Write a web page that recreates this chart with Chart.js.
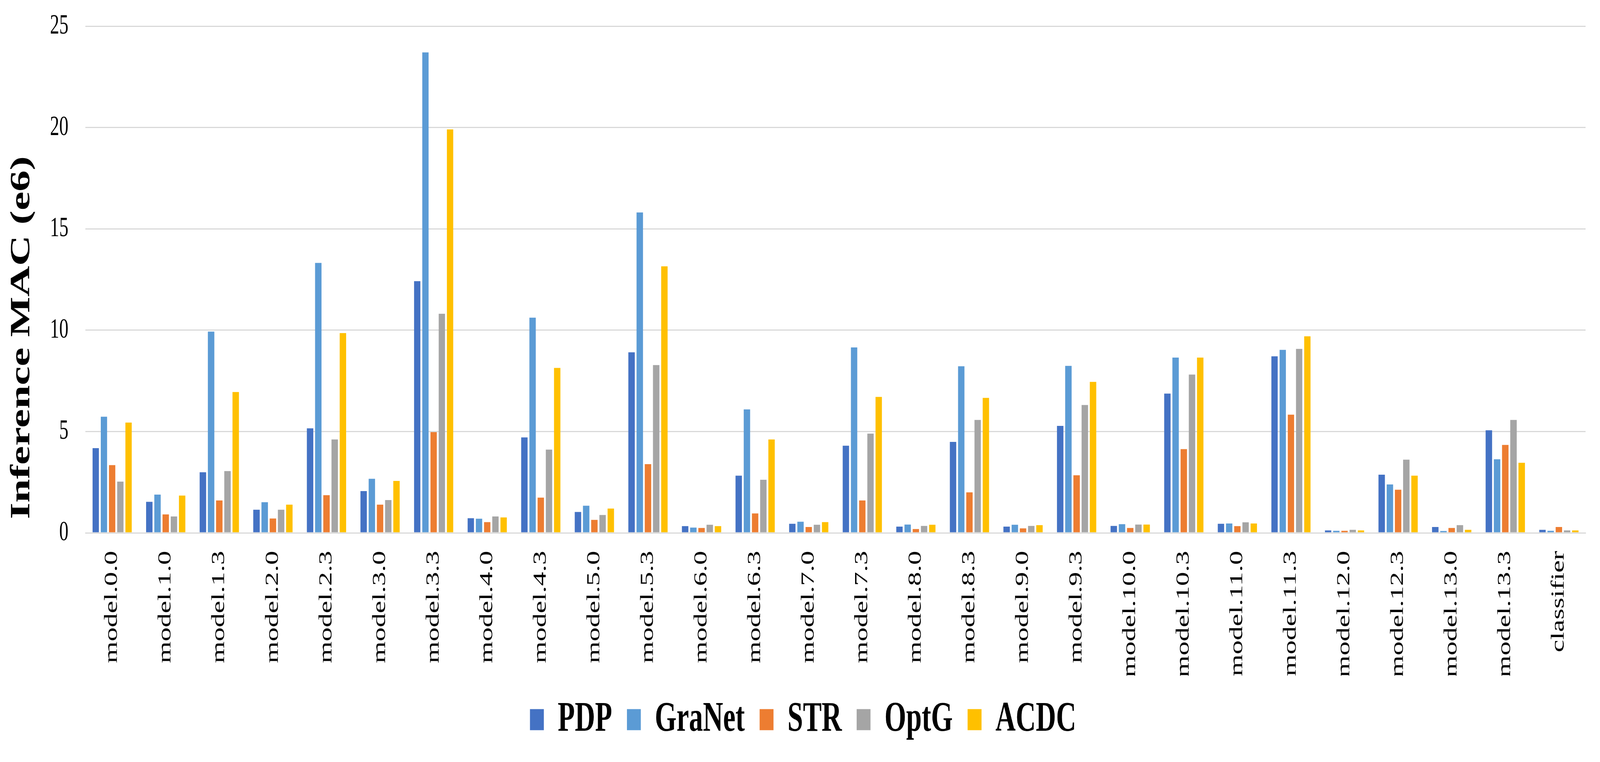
<!DOCTYPE html>
<html>
<head>
<meta charset="utf-8">
<script src="https://cdn.jsdelivr.net/npm/chart.js@4.4.1/dist/chart.umd.min.js"></script>
<style>
  html, body { margin: 0; padding: 0; background: #fff; overflow: hidden; }
  #wrap { width: 6242px; height: 1952px; transform-origin: 0 0; }
</style>
</head>
<body>
<div id="wrap"><canvas id="chartMac" width="6242" height="1952"></canvas></div>
<script>
// --- Datos ---
const layers = ["model.0.0", "model.1.0", "model.1.3", "model.2.0", "model.2.3", "model.3.0", "model.3.3",
    "model.4.0", "model.4.3", "model.5.0", "model.5.3", "model.6.0", "model.6.3", "model.7.0", "model.7.3",
    "model.8.0", "model.8.3", "model.9.0", "model.9.3", "model.10.0", "model.10.3", "model.11.0", "model.11.3",
    "model.12.0", "model.12.3", "model.13.0", "model.13.3", "classifier"];

const pdp    = [4.18, 1.53, 2.99, 1.14, 5.16, 2.06, 12.42, 0.72, 4.71, 1.03, 8.91, 0.33, 2.82, 0.45, 4.30, 0.31, 4.49, 0.31, 5.28, 0.34, 6.87, 0.45, 8.71, 0.12, 2.87, 0.29, 5.06, 0.15];
const granet = [5.73, 1.89, 9.93, 1.51, 13.32, 2.67, 23.71, 0.70, 10.62, 1.34, 15.81, 0.26, 6.09, 0.55, 9.15, 0.41, 8.22, 0.40, 8.24, 0.43, 8.65, 0.46, 9.03, 0.10, 2.39, 0.09, 3.63, 0.10];
const str    = [3.34, 0.91, 1.60, 0.71, 1.86, 1.39, 4.97, 0.53, 1.74, 0.64, 3.39, 0.24, 0.96, 0.29, 1.60, 0.19, 2.00, 0.22, 2.84, 0.24, 4.13, 0.33, 5.83, 0.10, 2.13, 0.24, 4.34, 0.29];
const optg   = [2.53, 0.81, 3.05, 1.14, 4.61, 1.62, 10.81, 0.81, 4.11, 0.88, 8.28, 0.40, 2.62, 0.40, 4.90, 0.34, 5.57, 0.34, 6.31, 0.41, 7.81, 0.52, 9.08, 0.15, 3.61, 0.38, 5.57, 0.12];
const acdc   = [5.44, 1.84, 6.95, 1.39, 9.86, 2.56, 19.91, 0.76, 8.14, 1.20, 13.15, 0.33, 4.61, 0.53, 6.71, 0.40, 6.66, 0.38, 7.45, 0.41, 8.65, 0.46, 9.70, 0.12, 2.82, 0.15, 3.46, 0.12];

const seriesNames = ["PDP", "GraNet", "STR", "OptG", "ACDC"];
const yTicks = [0, 5, 10, 15, 20, 25];
const yTitle = "Inference MAC (e6)";

const colors = ["#4472C4", "#5B9BD5", "#ED7D31", "#A5A5A5", "#FFC000"];
const serif = "'Liberation Serif', 'Times New Roman', serif";

// el lienzo se dibuja a 6242x1952 y se escala a la ventana
const el = (id) => document.getElementById(id);
el("wrap").style.transform = `scale(${window.innerWidth / 6242}, ${window.innerHeight / 1952})`;

// titulo del eje Y (dibujado a mano para colocarlo como en el original)
const yTitlePlugin = {
    id: "yTitle",
    afterDraw(chart) {
        const { ctx, chartArea } = chart;
        ctx.save();
        ctx.translate(86, chartArea.bottom - 500);
        ctx.rotate(-Math.PI / 2);
        ctx.font = "bold 109px " + serif;
        ctx.fillStyle = "#000";
        ctx.textAlign = "center";
        ctx.textBaseline = "middle";
        ctx.fillText(yTitle, 0, 0);
        ctx.restore();
    }
};

const datasets = [pdp, granet, str, optg, acdc].map((values, i) => ({
    label: seriesNames[i],
    data: values,
    backgroundColor: colors[i],
    borderWidth: 0,
    categoryPercentage: 0.766,
    barPercentage: 0.78,
}));

new Chart(el("chartMac").getContext("2d"), {
    type: "bar",
    data: { labels: layers, datasets },
    options: {
        responsive: false,
        devicePixelRatio: 1,
        animation: false,
        layout: { padding: { top: 67, left: 80, right: 56, bottom: 44 } },
        scales: {
            x: {
                afterFit: (scale) => { scale.height = 366; },
                grid: { display: false, drawTicks: false },
                border: { display: true, color: "#D9D9D9", width: 3 },
                ticks: {
                    color: "#000",
                    font: { family: serif, size: 72 },
                    minRotation: 90,
                    maxRotation: 90,
                    padding: 46,
                    autoSkip: false,
                },
            },
            y: {
                min: 0,
                max: 25,
                afterBuildTicks: (scale) => { scale.ticks = yTicks.map((v) => ({ value: v })); },
                afterFit: (scale) => { scale.width = 253; },
                // marcas invisibles: solo separan las etiquetas del area
                grid: { color: "#D9D9D9", lineWidth: 3, drawTicks: true, tickLength: 42, tickColor: "rgba(0,0,0,0)" },
                border: { display: false },
                ticks: {
                    color: "#000",
                    font: { family: serif, size: 72 },
                    padding: 24,
                },
            },
        },
        plugins: {
            legend: {
                position: "bottom",
                labels: {
                    color: "#000",
                    font: { family: serif, size: 109, weight: "bold" },
                    boxWidth: 54,
                    boxHeight: 54,
                    padding: 58,
                },
            },
            tooltip: { enabled: false },
        },
    },
    plugins: [yTitlePlugin],
});
</script>
</body>
</html>
